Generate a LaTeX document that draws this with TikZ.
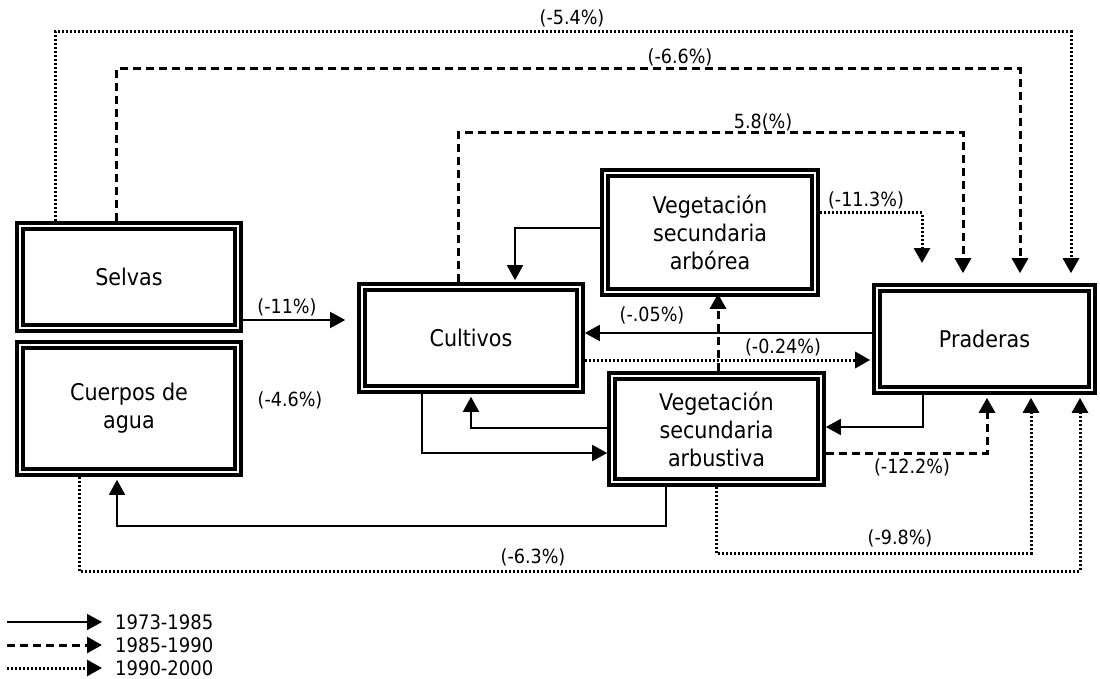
\documentclass[tikz,border=0pt]{standalone}
\usepackage{fontspec}
\setmainfont{DejaVu Sans Condensed}
\usetikzlibrary{arrows.meta}
\tikzset{
  box/.style={draw,line width=4pt,double,double distance=1.6pt,outer sep=4.8pt,
    align=center,font=\fontsize{23}{28}\selectfont},
  pct/.style={inner sep=1pt,font=\fontsize{19.5}{22}\selectfont},
  solidline/.style={line width=1.6pt},
  dashline/.style={line width=3pt,dash pattern=on 8pt off 5pt},
  dotline/.style={line width=3pt,dash pattern=on 2pt off 2pt},
}
\begin{document}
\begin{tikzpicture}[x=1pt,y=-1pt,>={Triangle[length=15pt,width=16pt]}]
\useasboundingbox (0,0) rectangle (1100,679);
% land cover classes
\node[box,minimum width=218pt,minimum height=102pt] (sel) at (129,277) {Selvas};
\node[box,minimum width=218pt,minimum height=127pt] (cue) at (129,408.5) {Cuerpos de\\agua};
\node[box,minimum width=218pt,minimum height=102pt] (cul) at (471,338) {Cultivos};
\node[box,minimum width=210pt,minimum height=119pt] (arb) at (710,232.5) {Vegetación\\secundaria\\arbórea};
\node[box,minimum width=209pt,minimum height=106pt] (abu) at (716.5,429) {Vegetación\\secundaria\\arbustiva};
\node[box,minimum width=215pt,minimum height=102pt] (pra) at (984.5,339) {Praderas};
\coordinate (e113) at (922,263);
% 1973-1985
\draw[solidline,->,shorten >=12pt] (sel.east |- 0,320) -- (cul.west |- 0,320);
\draw[solidline,->,shorten >=2pt] (arb.west |- 0,228) -| (cul.north -| 515,0);
\draw[solidline,->] (pra.west |- 0,333) -- (cul.east |- 0,333);
\draw[solidline,->] (pra.south -| 923,0) |- (abu.east |- 0,427);
\draw[solidline,->] (cul.south -| 422,0) |- (abu.west |- 0,453);
\draw[solidline,->,shorten >=3pt] (abu.west |- 0,428) -| (cul.south -| 471,0);
\draw[solidline,->,shorten >=3pt] (abu.south -| 666,0) |- (117,526) -- (cue.south -| 117,0);
% 1985-1990
\draw[dashline,->,shorten >=10pt] (sel.north -| 116,0) |- (1020,69) -- (pra.north -| 1020,0);
\draw[dashline,->,shorten >=10pt] (cul.north -| 458,0) |- (963,133) -- (pra.north -| 963,0);
\draw[dashline,->,shorten >=-3pt] (abu.north -| 718,0) -- (arb.south -| 718,0);
\draw[dashline,->,shorten >=3pt] (abu.east |- 0,453) -| (pra.south -| 987,0);
% 1990-2000
\draw[dotline,->,shorten >=10pt] (sel.north -| 55,0) |- (1071,32) -- (pra.north -| 1071,0);
\draw[dotline,->] (arb.east |- 0,213) -| (e113);
\draw[dotline,->,shorten >=2pt] (cul.east |- 0,360) -- (pra.west |- 0,360);
\draw[dotline,->,shorten >=3pt] (abu.south -| 716,0) |- (1031,553) -- (pra.south -| 1031,0);
\draw[dotline,->,shorten >=3pt] (cue.south -| 79,0) |- (1080,571) -- (pra.south -| 1080,0);
% rates
\node[pct] (r54) at (572,18) {(-5.4\%)};
\node[pct] (r66) at (680,57) {(-6.6\%)};
\node[pct] (r58) at (763,122) {5.8(\%)};
\node[pct] (r113) at (866,200) {(-11.3\%)};
\node[pct] (r11) at (287,307) {(-11\%)};
\node[pct] (r46) at (290,400) {(-4.6\%)};
\node[pct] (r05) at (652,315) {(-.05\%)};
\node[pct] (r024) at (783,347) {(-0.24\%)};
\node[pct] (r122) at (912,467) {(-12.2\%)};
\node[pct] (r98) at (900,538) {(-9.8\%)};
\node[pct] (r63) at (533,557) {(-6.3\%)};
% legend
\coordinate (l1) at (7,622);
\coordinate (l2) at (7,645);
\coordinate (l3) at (7,668);
\node[pct,anchor=west,font=\fontsize{20}{22}\selectfont] (t1) at (114,622) {1973-1985};
\node[pct,anchor=west,font=\fontsize{20}{22}\selectfont] (t2) at (114,645) {1985-1990};
\node[pct,anchor=west,font=\fontsize{20}{22}\selectfont] (t3) at (114,668) {1990-2000};
\draw[solidline,->,shorten >=12pt] (l1) -- (t1.west);
\draw[dashline,->,shorten >=12pt] (l2) -- (t2.west);
\draw[dotline,->,shorten >=12pt] (l3) -- (t3.west);
\end{tikzpicture}
\end{document}
